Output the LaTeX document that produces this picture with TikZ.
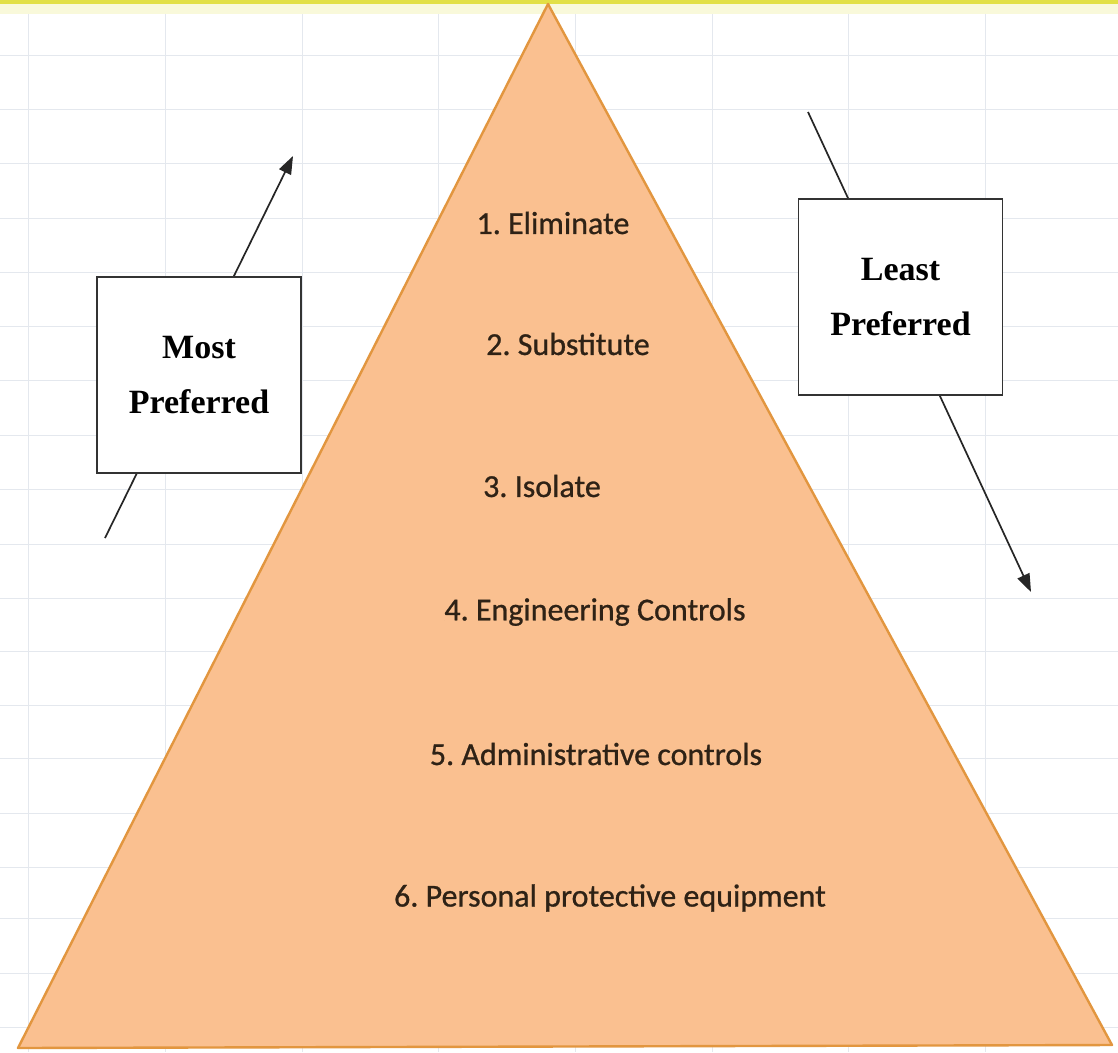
\documentclass[tikz,border=0pt]{standalone}
\usepackage{fontspec}
\setmainfont{Carlito}[FakeBold=0.8]
\newfontfamily\boxfont{Liberation Serif}
\usetikzlibrary{arrows.meta}
\definecolor{gridline}{HTML}{E4E8EE}
\definecolor{topbar}{HTML}{E2E046}
\definecolor{pyrfill}{HTML}{FAC090}
\definecolor{pyrline}{HTML}{E2963F}
\definecolor{itemtext}{HTML}{2E2216}
\tikzset{
  item/.style={font=\fontsize{32}{36}\selectfont, text=itemtext, inner sep=0pt},
  prefbox/.style={draw=black!80, line width=1.6pt, fill=white, minimum width=204pt,
    minimum height=196pt, align=center, inner sep=0pt,
    font=\boxfont\bfseries\fontsize{34}{55}\selectfont},
  trend/.style={draw=black!85, line width=1.7pt, -{Triangle[length=18pt,width=13pt]}},
  grid/.style={draw=gridline, line width=1pt}
}
\frenchspacing
\begin{document}
\begin{tikzpicture}[x=1pt,y=-1pt]
  \useasboundingbox (0,0) rectangle (1118,1052);
  \fill[white] (0,0) rectangle (1118,1052);

  % spreadsheet grid behind everything
  \foreach \gy in {55,109,163,218,272,326,380,435,489,544,598,651,705,758,813,867,918,973,1027}
    \draw[grid] (0,\gy) -- (1118,\gy);
  \foreach \gx in {28,165,302,438,575,712,848,985}
    \draw[grid] (\gx,0) -- (\gx,1052);

  % yellow band along the top edge
  \fill[topbar!20] (0,0) rectangle (1118,14);
  \fill[topbar] (0,0) rectangle (1118,4);

  % the hierarchy pyramid
  \coordinate (apex) at (548,4);
  \coordinate (baseL) at (18,1048);
  \coordinate (baseR) at (1112,1045);
  \filldraw[fill=pyrfill, draw=pyrline, line width=2.4pt, line join=round]
    (apex) -- (baseR) -- (baseL) -- cycle;

  \node[item] (i1) at (553,223) {1. Eliminate};
  \node[item] (i2) at (568,344) {2. Substitute};
  \node[item] (i3) at (542,486) {3. Isolate};
  \node[item] (i4) at (595,612) {4. Engineering Controls};
  \node[item] (i5) at (596,754) {5. Administrative controls};
  \node[item] (i6) at (610,898) {6. Personal protective equipment};

  % preference arrows, running behind the label boxes
  \coordinate (mostTail) at (105,538);
  \coordinate (mostHead) at (293,156);
  \coordinate (leastTail) at (808,112);
  \coordinate (leastHead) at (1031,592);
  \draw[trend] (mostTail) -- (mostHead);
  \draw[trend] (leastTail) -- (leastHead);

  \node[prefbox] (most) at (199,375) {Most\\Preferred};
  \node[prefbox] (least) at (900.5,297) {Least\\Preferred};
\end{tikzpicture}
\end{document}
